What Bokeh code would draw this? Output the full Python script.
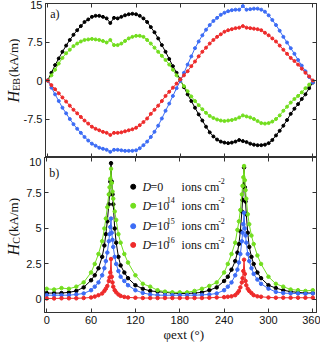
import math
from bokeh.plotting import figure
from bokeh.layouts import column, row
from bokeh.models import Range1d, LinearAxis, FixedTicker, Label, ColumnDataSource
from bokeh.core.properties import value
from bokeh.embed import file_html
from bokeh.resources import INLINE

# ---------------- data ----------------
angles_top = list(range(0, 361, 5))

heb_black = [0.0, 1.5, 3.0, 4.3, 5.6, 6.8, 7.9, 8.9, 9.8, 10.6,
             11.4, 11.9, 12.4, 12.6, 12.6, 12.4, 12.1, 11.2, 12.2, 12.1,
             12.4, 12.7, 12.9, 13.0, 12.9, 12.6, 12.1, 11.4, 10.4, 9.4,
             8.2, 6.9, 5.6, 4.2, 2.8, 1.5, 0.2, -1.3, -2.7, -4.0,
             -5.3, -6.6, -7.8, -9.0, -10.1, -10.9, -11.5, -11.9, -12.1, -12.2,
             -12.1, -11.9, -11.6, -11.8, -12.0, -12.3, -12.5, -12.6, -12.6, -12.5,
             -12.2, -11.6, -10.7, -9.8, -8.8, -7.7, -6.5, -5.5, -4.6, -3.6,
             -2.7, -1.5, -0.4]
heb_green = [0.0, 1.0, 2.1, 3.3, 4.4, 5.3, 6.0, 6.7, 7.2, 7.6,
             7.9, 8.0, 8.1, 8.0, 7.9, 7.7, 7.4, 7.9, 6.9, 6.9,
             7.2, 7.7, 8.2, 8.5, 8.7, 8.7, 8.5, 7.9, 7.2, 6.4,
             5.6, 4.8, 4.0, 3.1, 2.1, 1.0, -0.1, -1.1, -2.1, -3.1,
             -4.0, -4.8, -5.6, -6.3, -6.9, -7.3, -7.6, -7.8, -7.9, -7.8,
             -7.7, -7.5, -7.2, -6.8, -7.0, -7.2, -7.5, -7.9, -8.3, -8.4,
             -8.3, -8.0, -7.5, -6.8, -5.9, -5.1, -4.3, -3.6, -3.0, -2.3,
             -1.5, -0.8, -0.1]
heb_blue = [0.0, -1.4, -2.7, -4.0, -5.3, -6.4, -7.5, -8.5, -9.4, -10.2,
            -11.0, -11.7, -12.3, -12.7, -13.1, -13.3, -13.5, -13.9, -13.5, -13.5,
            -13.6, -13.7, -13.7, -13.7, -13.6, -13.2, -12.6, -11.9, -11.0, -10.0,
            -8.8, -7.4, -5.9, -4.5, -3.0, -1.5, -0.1, 1.5, 3.1, 4.7,
            6.3, 7.6, 8.8, 9.9, 10.8, 11.6, 12.2, 12.8, 13.2, 13.5,
            13.7, 13.8, 13.8, 14.5, 13.8, 13.9, 14.0, 14.0, 13.8, 13.4,
            12.7, 11.8, 10.8, 9.7, 8.5, 7.4, 6.3, 5.2, 4.0, 2.9,
            1.8, 0.7, -0.4]
heb_red = [0.0, -0.9, -1.7, -2.5, -3.3, -4.1, -4.9, -5.7, -6.4, -7.1,
           -7.8, -8.4, -9.0, -9.4, -9.7, -10.0, -10.2, -10.6, -10.2, -10.2,
           -10.1, -9.9, -9.7, -9.5, -9.2, -8.7, -8.1, -7.4, -6.5, -5.7,
           -4.9, -4.0, -3.0, -2.2, -1.4, -0.6, 0.2, 1.0, 1.8, 2.8,
           3.7, 4.7, 5.6, 6.4, 7.2, 7.9, 8.5, 9.0, 9.5, 9.8,
           10.0, 10.2, 10.3, 10.6, 10.3, 10.2, 10.1, 10.0, 9.8, 9.3,
           8.8, 8.2, 7.6, 6.8, 6.0, 5.2, 4.4, 3.8, 3.1, 2.3,
           1.5, 0.8, 0.0]

angles_bot = [0, 10, 20, 30, 40, 50, 60, 65, 70, 75,
              78, 80, 82, 84, 85, 86, 87, 88, 89, 90,
              92, 94, 97, 100, 105, 110, 120, 130, 140, 150,
              160, 170, 180, 190, 200, 210, 220, 230, 240, 245,
              250, 255, 258, 260, 262, 264, 265, 266, 267, 268,
              269, 270, 272, 274, 277, 280, 285, 290, 300, 310,
              320, 330, 340, 350, 360]
hc_black = [0.45, 0.45, 0.45, 0.5, 0.6, 0.85, 1.35, 1.7, 2.2, 3.0,
            3.8, 4.6, 5.5, 6.7, 7.4, 8.3, 9.6, 8.3, 7.4, 6.7,
            5.0, 4.0, 3.0, 2.4, 1.9, 1.5, 1.0, 0.75, 0.6, 0.55,
            0.5, 0.45, 0.42, 0.42, 0.45, 0.5, 0.65, 0.85, 1.3, 1.6,
            2.1, 2.7, 3.3, 3.9, 4.8, 6.2, 7.0, 8.0, 9.3, 7.9,
            6.9, 6.0, 4.7, 3.7, 3.0, 2.5, 1.9, 1.5, 1.0, 0.8,
            0.65, 0.55, 0.5, 0.45, 0.45]
hc_green = [0.75, 0.7, 0.8, 0.75, 0.9, 1.2, 1.9, 2.5, 3.2, 4.1,
            5.0, 5.7, 6.5, 7.4, 7.9, 8.5, 9.2, 8.2, 7.6, 7.1,
            6.2, 5.6, 4.6, 4.0, 3.2, 2.6, 1.7, 1.1, 0.9, 0.65,
            0.55, 0.5, 0.5, 0.5, 0.6, 0.75, 0.95, 1.2, 1.9, 2.5,
            3.2, 4.0, 4.9, 5.5, 6.3, 7.4, 8.0, 8.6, 9.4, 8.4,
            7.7, 7.1, 6.0, 5.3, 4.5, 3.9, 3.1, 2.5, 1.6, 1.1,
            0.9, 0.7, 0.65, 0.6, 0.65]
hc_blue = [0.3, 0.3, 0.3, 0.3, 0.35, 0.42, 0.65, 0.9, 1.2, 1.7,
           2.2, 2.7, 3.3, 4.1, 4.6, 5.1, 5.7, 4.7, 4.2, 3.7,
           3.0, 2.5, 2.0, 1.6, 1.3, 1.0, 0.65, 0.46, 0.35, 0.3,
           0.3, 0.3, 0.3, 0.3, 0.3, 0.32, 0.35, 0.42, 0.65, 0.9,
           1.2, 1.7, 2.1, 2.6, 3.2, 4.1, 4.7, 5.3, 6.1, 5.0,
           4.5, 4.0, 3.2, 2.7, 2.2, 1.8, 1.4, 1.1, 0.76, 0.53,
           0.45, 0.42, 0.42, 0.4, 0.42]
hc_red = [0.07, 0.07, 0.08, 0.08, 0.08, 0.1, 0.14, 0.2, 0.3, 0.42,
          0.6, 0.76, 0.95, 1.3, 1.55, 1.9, 2.85, 1.6, 1.2, 0.9,
          0.65, 0.5, 0.35, 0.25, 0.18, 0.14, 0.12, 0.1, 0.1, 0.1,
          0.1, 0.1, 0.1, 0.1, 0.1, 0.1, 0.12, 0.14, 0.16, 0.19,
          0.22, 0.3, 0.45, 0.6, 0.85, 1.2, 1.5, 2.0, 2.8, 1.8,
          1.3, 1.0, 0.75, 0.6, 0.45, 0.3, 0.22, 0.19, 0.14, 0.12,
          0.12, 0.12, 0.12, 0.12, 0.12]

series_colors = ["#000000", "#72DE1E", "#3C6CF5", "#EE2A2A"]
legend_d = ["=0", "=10", "=10", "=10"]
legend_exp = ["", "14", "15", "16"]

x_ticks = [0, 60, 120, 180, 240, 300, 360]
top_ticks = [-15, -7.5, 0, 7.5, 15]
top_tick_labels = {-15: "", -7.5: "-7.5", 0: "0", 7.5: "7.5", 15: "15"}
bot_ticks = [0, 2.5, 5, 7.5, 10]
bot_tick_labels = {0: "0", 2.5: "2.5", 5: "5", 7.5: "7.5", 10: "10"}
x_title = "\u00a0\u00a0φext (°)"

AX = "#333333"
TXT = "#111111"
SERIF = "Liberation Serif"
SANS = "Liberation Sans"


def style_axis(ax, ticks, labels):
    ax.ticker = FixedTicker(ticks=ticks)
    ax.major_tick_in = 4
    ax.major_tick_out = 0
    ax.minor_tick_in = 0
    ax.minor_tick_out = 0
    ax.axis_line_color = AX
    ax.major_tick_line_color = AX
    ax.major_label_text_font = SANS
    ax.major_label_text_font_size = "11px"
    ax.major_label_text_color = TXT
    if labels is None:
        ax.major_label_overrides = {t: "" for t in ticks}
        ax.major_label_standoff = 0
        ax.major_label_text_font_size = "0px"
    else:
        ax.major_label_overrides = labels
        ax.major_label_standoff = 3


def make_fig(width, height, xr, yr, left_b, top_b, bot_b, axes=True):
    kw = {}
    if not axes:
        kw = dict(x_axis_type=None, y_axis_type=None)
    p = figure(width=width, height=height, output_backend="svg", toolbar_location=None,
               x_range=xr, y_range=yr,
               min_border_left=left_b, min_border_right=(4 if axes else 0),
               min_border_top=top_b, min_border_bottom=bot_b, **kw)
    p.grid.visible = False
    p.outline_line_color = AX if axes else None
    p.background_fill_color = "white"
    p.border_fill_color = "white"
    return p


def add_vtitle(p, x_main, x_sub, pieces):
    # pieces: (y, text, size, style, is_sub)
    for y, t, size, style, sub in pieces:
        p.text([x_sub if sub else x_main], [y], text=[t], angle=math.pi / 2,
               text_font=value(SERIF), text_font_size=size, text_font_style=style,
               text_baseline="alphabetic", text_align="left", text_color=TXT)


x_range = Range1d(-3, 365)

# ---------------- top panel ----------------
y1 = Range1d(-15, 15)
p1 = make_fig(300, 157, x_range, y1, 24, 3, 0)
style_axis(p1.xaxis[0], x_ticks, None)
style_axis(p1.yaxis[0], top_ticks, top_tick_labels)
r1 = LinearAxis(); style_axis(r1, top_ticks, None); p1.add_layout(r1, "right")
a1 = LinearAxis(); style_axis(a1, x_ticks, None); p1.add_layout(a1, "above")

for ys, c in zip([heb_black, heb_green, heb_blue, heb_red], series_colors):
    p1.line(angles_top, ys, line_color=c, line_width=1)
    p1.scatter(angles_top, ys, size=3, fill_color=c, line_color=c)

p1.add_layout(Label(x=3.5, y=13.0, text="a)", text_font=SERIF, text_font_size="12px",
                    text_baseline="middle", text_color=TXT))

t1 = make_fig(20, 157, Range1d(0, 20), y1, 0, 3, 0, axes=False)
add_vtitle(t1, 12.5, 15.5, [(-4.3, "H", "16px", "italic", False),
                            (-2.0, "EB", "10px", "normal", True),
                            (0.7, "(kA/m)", "13px", "normal", False)])

# ---------------- bottom panel ----------------
y2 = Range1d(-0.92, 10)
p2 = make_fig(300, 187, x_range, y2, 24, 0, 31)
style_axis(p2.xaxis[0], x_ticks, {t: str(t) for t in x_ticks})
style_axis(p2.yaxis[0], bot_ticks, bot_tick_labels)
p2.xaxis[0].axis_label = x_title
p2.xaxis[0].axis_label_text_font = SERIF
p2.xaxis[0].axis_label_text_font_size = "13px"
p2.xaxis[0].axis_label_text_font_style = "normal"
p2.xaxis[0].axis_label_text_color = TXT
p2.xaxis[0].axis_label_standoff = 0
r2 = LinearAxis(); style_axis(r2, bot_ticks, None); p2.add_layout(r2, "right")
a2 = LinearAxis(); style_axis(a2, x_ticks, None); p2.add_layout(a2, "above")

for ys, c in zip([hc_black, hc_green, hc_blue, hc_red], series_colors):
    p2.line(angles_bot, ys, line_color=c, line_width=1)
    p2.scatter(angles_bot, ys, size=3.5, fill_color=c, line_color=c)

p2.add_layout(Label(x=3.5, y=8.9, text="b)", text_font=SERIF, text_font_size="12px",
                    text_baseline="middle", text_color=TXT))

# legend (manual)
rows_y = [7.94, 6.6, 5.16, 3.84]
leg = ColumnDataSource(dict(
    y=rows_y, ysup=[v + 0.38 for v in rows_y], c=series_colors,
    d=["D"] * 4, eq=legend_d, ex=legend_exp, ions=["ions cm"] * 4, m2=["-2"] * 4,
    xm=[117] * 4, xd=[129.5] * 4, xe=[140.5] * 4, xs=[162.5] * 4, xi=[182.5] * 4, xm2=[232] * 4))
p2.scatter("xm", "y", source=leg, size=5, fill_color="c", line_color="c")
p2.text("xd", "y", text="d", source=leg, text_font=value(SERIF), text_font_style="italic",
        text_font_size="12px", text_baseline="middle", text_color=TXT)
p2.text("xe", "y", text="eq", source=leg, text_font=value(SERIF),
        text_font_size="12px", text_baseline="middle", text_color=TXT)
p2.text("xs", "ysup", text="ex", source=leg, text_font=value(SERIF),
        text_font_size="8px", text_baseline="middle", text_color=TXT)
p2.text("xi", "y", text="ions", source=leg, text_font=value(SERIF),
        text_font_size="12px", text_baseline="middle", text_color=TXT)
p2.text("xm2", "ysup", text="m2", source=leg, text_font=value(SERIF),
        text_font_size="8px", text_baseline="middle", text_color=TXT)

t2 = make_fig(20, 187, Range1d(0, 20), y2, 0, 0, 31, axes=False)
add_vtitle(t2, 12.5, 15.5, [(3.1, "H", "16px", "italic", False),
                            (3.92, "C", "10px", "normal", True),
                            (4.45, "(kA/m)", "13px", "normal", False)])

layout = column(row(t1, p1, spacing=0), row(t2, p2, spacing=0), spacing=0)
open("out.html", "w").write(file_html(layout, INLINE))
